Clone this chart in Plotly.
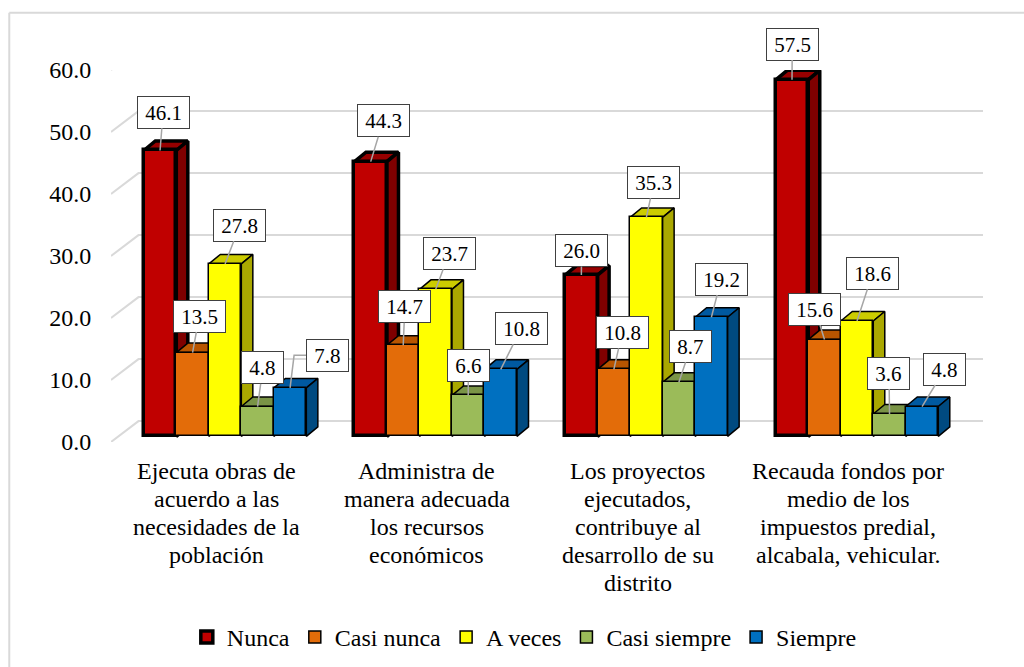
import plotly.graph_objects as go

# ---------- data ----------
categorias = [
    "Ejecuta obras de<br>acuerdo a las<br>necesidades de la<br>población",
    "Administra de<br>manera adecuada<br>los recursos<br>económicos",
    "Los proyectos<br>ejecutados,<br>contribuye al<br>desarrollo de su<br>distrito",
    "Recauda fondos por<br>medio de los<br>impuestos predial,<br>alcabala, vehicular.",
]
series = ["Nunca", "Casi nunca", "A veces", "Casi siempre", "Siempre"]
nunca = [46.1, 44.3, 26.0, 57.5]
casi_nunca = [13.5, 14.7, 10.8, 15.6]
a_veces = [27.8, 23.7, 35.3, 18.6]
casi_siempre = [4.8, 6.6, 8.7, 3.6]
siempre = [7.8, 10.8, 19.2, 4.8]
valores = [nunca, casi_nunca, a_veces, casi_siempre, siempre]
ticks_y = [0, 10, 20, 30, 40, 50, 60]

# ---------- estilos ----------
cor_frente = ["#C00000", "#E36C09", "#FFFF00", "#9BBB59", "#0070C0"]
cor_lado = ["#7F0000", "#974806", "#AAA800", "#7A9446", "#004A80"]
cor_topo = ["#960000", "#B85500", "#CCCC00", "#7A9446", "#0059A0"]
borda = [3.5, 1.5, 1.5, 1.5, 1.5]

# centro das caixas de rótulo, em pixels da página (serie x categoria)
caixa_x = [[163.3, 383.3, 581.7, 792.3],
           [199.5, 405, 622.3, 815],
           [240, 449.3, 654, 872.7],
           [263, 468.5, 691, 889],
           [328, 521.3, 721.3, 945]]
caixa_y = [[112, 120.5, 250.3, 43.7],
           [315.7, 306.5, 332, 309],
           [225, 253, 182, 273],
           [367.5, 365.5, 346, 372.7],
           [355, 328, 278.7, 368.7]]

# ---------- geometria (pixels) ----------
LARGURA, ALTURA = 1024, 667
ESQ, PERIODO = 111.2, 210.6
DIR = 983
BASE_Y, PX_UNID = 441.7, 6.2
L_BARRA = 32.5 / PERIODO
DESLOC_GRUPO = -72.5 / PERIODO   # borda esquerda da 1a barra em relacao ao centro
BASE_BARRA = 5.7 / PX_UNID       # barras recuadas em relacao a frente do piso
PROF_X, PROF_Y = 11.5 / PERIODO, 9.5 / PX_UNID
FUNDO_DX, FUNDO_DY = 27.5 / PERIODO, 20.9 / PX_UNID
X_MAX = (DIR - ESQ) / PERIODO - 0.5
L_PLOT, A_PLOT = DIR - ESQ, 60 * PX_UNID


def px_x(x):
    return ESQ + (x + 0.5) * PERIODO


def px_y(v):
    return BASE_Y - v * PX_UNID


def paper_x(px):
    return (px - ESQ) / L_PLOT


def paper_y(px):
    return (BASE_Y - px) / A_PLOT


fig = go.Figure()

# grade do fundo e diagonais da parede lateral
gx, gy = [], []
for t in ticks_y:
    gx += [-0.5, -0.5 + FUNDO_DX, X_MAX, None]
    gy += [t, t + FUNDO_DY, t + FUNDO_DY, None]
fig.add_trace(go.Scatter(x=gx, y=gy, mode="lines", showlegend=False, hoverinfo="skip",
                         line=dict(color="#D9D9D9", width=2), cliponaxis=False, zorder=0))

# barras: cada serie tem topo, lado e frente, pintadas da esquerda para a direita
for k, nome in enumerate(series):
    xs = [i + DESLOC_GRUPO + k * L_BARRA for i in range(len(categorias))]

    tx, ty, lx, ly = [], [], [], []
    for x0, v in zip(xs, valores[k]):
        x1 = x0 + L_BARRA
        topo = v + BASE_BARRA
        tx += [x0, x0 + PROF_X, x1 + PROF_X, x1, x0, None]
        ty += [topo, topo + PROF_Y, topo + PROF_Y, topo, topo, None]
        lx += [x1, x1 + PROF_X, x1 + PROF_X, x1, x1, None]
        ly += [topo, topo + PROF_Y, BASE_BARRA + PROF_Y, BASE_BARRA, topo, None]

    fig.add_trace(go.Scatter(x=tx, y=ty, mode="lines", fill="toself", fillcolor=cor_topo[k],
                             line=dict(color="black", width=borda[k]), showlegend=False,
                             hoverinfo="skip", cliponaxis=False, zorder=1 + 2 * k))
    fig.add_trace(go.Scatter(x=lx, y=ly, mode="lines", fill="toself", fillcolor=cor_lado[k],
                             line=dict(color="black", width=borda[k]), showlegend=False,
                             hoverinfo="skip", cliponaxis=False, zorder=1 + 2 * k))
    fig.add_trace(go.Bar(x=[x + L_BARRA / 2 for x in xs], y=valores[k], base=BASE_BARRA,
                         width=L_BARRA, name=nome, cliponaxis=False,
                         marker=dict(color=cor_frente[k], line=dict(color="black", width=borda[k])),
                         zorder=2 + 2 * k))

# rotulos com linha guia
anotacoes = []
for k in range(len(series)):
    for i, v in enumerate(valores[k]):
        x_topo = i + DESLOC_GRUPO + (k + 0.5) * L_BARRA
        y_topo = v + BASE_BARRA
        estilo = dict(width=51 if v >= 10 else 40.6, height=31,
                      bgcolor="white", bordercolor="#404040", borderwidth=1, borderpad=0,
                      font=dict(family="Liberation Serif", size=21, color="black"))
        if k == 4 and i == 0:
            # o 7.8 tem guia em cotovelo, desenhada abaixo
            anotacoes.append(dict(x=(caixa_x[k][i] - ESQ) / PERIODO - 0.5,
                                  y=(BASE_Y - caixa_y[k][i]) / PX_UNID,
                                  text=f"{v:.1f}", showarrow=False, **estilo))
        else:
            anotacoes.append(dict(x=x_topo, y=y_topo, text=f"{v:.1f}",
                                  ax=caixa_x[k][i] - px_x(x_topo), ay=caixa_y[k][i] - px_y(y_topo),
                                  axref="pixel", ayref="pixel",
                                  showarrow=True, arrowhead=0, arrowwidth=1.5, arrowcolor="#A6A6A6",
                                  **estilo))

# guia em cotovelo do 7.8
x_e = DESLOC_GRUPO + 4.5 * L_BARRA
fig.add_trace(go.Scatter(x=[x_e, x_e + 4 / PERIODO, (307 - ESQ) / PERIODO - 0.5],
                         y=[siempre[0] + BASE_BARRA, (BASE_Y - 355) / PX_UNID, (BASE_Y - 355) / PX_UNID],
                         mode="lines", line=dict(color="#A6A6A6", width=1.5), showlegend=False,
                         hoverinfo="skip", cliponaxis=False, zorder=20))

# categorias, uma anotacao por linha para manter o entrelinha de 28 px
for i, cat in enumerate(categorias):
    for j, linha in enumerate(cat.split("<br>")):
        anotacoes.append(dict(
            x=i, y=0, yref="y", text=linha, showarrow=False, yanchor="middle",
            yshift=-(471 + 28 * j - BASE_Y),
            font=dict(family="Liberation Serif", size=24, color="black"),
        ))

fig.update_layout(
    width=LARGURA, height=ALTURA, autosize=False,
    margin=dict(l=ESQ, r=LARGURA - DIR, t=BASE_Y - A_PLOT, b=ALTURA - BASE_Y, pad=0, autoexpand=False),
    paper_bgcolor="white", plot_bgcolor="white",
    barmode="overlay", bargap=0,
    annotations=anotacoes,
    font=dict(family="Liberation Serif", size=24, color="black"),
    xaxis=dict(range=[-0.5, X_MAX], showgrid=False, zeroline=False, showline=False,
               showticklabels=False, ticks=""),
    yaxis=dict(range=[0, 60], tickvals=ticks_y, ticktext=[f"{t:.1f}" for t in ticks_y],
               showgrid=False, zeroline=False, showline=False, ticks="outside", ticklen=14,
               tickcolor="rgba(0,0,0,0)", tickfont=dict(family="Liberation Serif", size=24)),
    legend=dict(orientation="h", x=paper_x(187), xanchor="left",
                y=paper_y(637), yanchor="middle",
                font=dict(family="Liberation Serif", size=24), bgcolor="rgba(0,0,0,0)"),
    shapes=[
        # moldura do grafico: esquerda e topo
        dict(type="line", xref="paper", yref="paper",
             x0=paper_x(9.5), x1=paper_x(1024), y0=paper_y(12.5), y1=paper_y(12.5),
             line=dict(color="#D9D9D9", width=2)),
        dict(type="line", xref="paper", yref="paper",
             x0=paper_x(9.5), x1=paper_x(9.5), y0=paper_y(12.5), y1=paper_y(667),
             line=dict(color="#D9D9D9", width=2)),
    ],
)

fig.write_html("out.html", config=dict(displayModeBar=False),
               post_script="document.body.style.margin='0';")
